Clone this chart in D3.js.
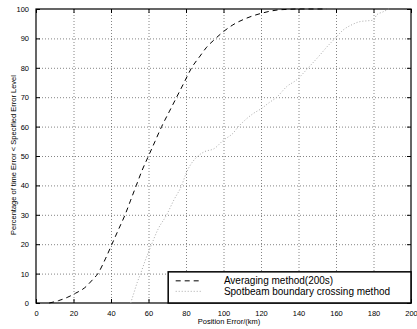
<!DOCTYPE html>
<html>
<head>
<meta charset="utf-8">
<script src="https://cdn.jsdelivr.net/npm/d3@7"></script>
<style>
  body { margin: 0; background: #fff; }
  svg { display: block; font-family: "Liberation Sans", Arial, Helvetica, sans-serif; }
</style>
</head>
<body>
<div id="chart"></div>
<script>
// Averaging method (200s): position error (km) vs percentage
const avgX = [7, 12, 17, 21, 26, 30, 33, 37, 40.5, 44, 47.5, 50.5, 53.5, 56.5, 60, 63.5, 67, 71, 75, 79, 83, 87.5, 91, 95, 99, 105, 112, 120, 128, 135, 140, 150, 155];
const avgY = [0, 0.8, 2, 3.3, 5.2, 7.8, 10, 15, 20, 25, 30, 35, 40, 45, 50, 55, 60, 65, 70, 75, 80, 84, 87, 89.5, 91.8, 94.6, 96.8, 98.5, 99.6, 99.9, 100, 100, 100];

// Spotbeam boundary crossing method
const spotX = [50.5, 52, 54, 55.8, 58, 61.7, 65, 69.7, 73.5, 77.7, 80, 81.5, 86.4, 90, 95, 100, 105, 108, 112, 116, 120.4, 124, 128.4, 133.7, 139, 145.2, 151.5, 155, 159.5, 163.9, 168, 172.8, 177, 180, 181.7, 185, 188];
const spotY = [0, 3, 7, 10, 14, 20, 25, 30, 35, 40, 44, 46, 50, 51.5, 52.5, 55.4, 57.7, 60, 62.5, 64.5, 66.2, 68, 70, 73.6, 75.9, 80, 84.4, 87, 90, 92.9, 94.5, 95.7, 96, 96.2, 98, 99, 100];

const xTicks = [0, 20, 40, 60, 80, 100, 120, 140, 160, 180, 200];
const yTicks = [0, 10, 20, 30, 40, 50, 60, 70, 80, 90, 100];
const legendLabels = ["Averaging method(200s)", "Spotbeam boundary crossing method"];

const width = 417, height = 329;
const margin = { top: 9, right: 6, bottom: 26, left: 36 };
const w = width - margin.left - margin.right,
  h = height - margin.top - margin.bottom;

const svg = d3.select("#chart").append("svg")
  .attr("width", width)
  .attr("height", height);

const g = svg.append("g")
  .attr("transform", "translate(" + margin.left + "," + margin.top + ")");

const x = d3.scaleLinear().domain([0, 200]).range([0, w]);
const y = d3.scaleLinear().domain([0, 100]).range([h, 0]);

// dotted grid
g.selectAll("line.gx")
  .data(xTicks.slice(1, -1))
  .enter().append("line")
  .attr("x1", d => x(d) + 0.5).attr("x2", d => x(d) + 0.5)
  .attr("y1", 0).attr("y2", h)
  .attr("stroke", "#666").attr("stroke-width", 0.8)
  .attr("stroke-dasharray", "1,2");
g.selectAll("line.gy")
  .data(yTicks.slice(1, -1))
  .enter().append("line")
  .attr("y1", d => y(d) + 0.5).attr("y2", d => y(d) + 0.5)
  .attr("x1", 0).attr("x2", w)
  .attr("stroke", "#666").attr("stroke-width", 0.8)
  .attr("stroke-dasharray", "1,2");

// axes, ticks pointing inward (matlab style)
const tickStyle = function (sel) {
  sel.select(".domain").remove();
  sel.selectAll("text").attr("font-size", "7.5px").attr("fill", "#000")
    .attr("font-family", "Liberation Sans, Arial, sans-serif");
  sel.selectAll("line").attr("stroke", "#000");
};
g.append("g")
  .attr("transform", "translate(0," + h + ")")
  .call(d3.axisBottom(x).tickValues(xTicks).tickSizeInner(-4).tickPadding(8))
  .call(tickStyle);
g.append("g")
  .call(d3.axisLeft(y).tickValues(yTicks).tickSizeInner(-4).tickPadding(7))
  .call(tickStyle);
g.append("g")
  .call(d3.axisTop(x).tickValues(xTicks).tickSizeInner(-4).tickFormat(""))
  .call(tickStyle);
g.append("g")
  .attr("transform", "translate(" + w + ",0)")
  .call(d3.axisRight(y).tickValues(yTicks).tickSizeInner(-4).tickFormat(""))
  .call(tickStyle);

// box
g.append("rect")
  .attr("x", 0).attr("y", 0).attr("width", w).attr("height", h)
  .attr("fill", "none").attr("stroke", "#000").attr("stroke-width", 1.2);

// curves
const line = d3.line().curve(d3.curveMonotoneX).x(d => x(d[0])).y(d => y(d[1]));
g.append("path")
  .datum(d3.zip(spotX, spotY))
  .attr("d", line)
  .attr("fill", "none").attr("stroke", "#aaa").attr("stroke-width", 1)
  .attr("stroke-dasharray", "1,2");
g.append("path")
  .datum(d3.zip(avgX, avgY))
  .attr("d", line)
  .attr("fill", "none").attr("stroke", "#000").attr("stroke-width", 1)
  .attr("stroke-dasharray", "5,4");

// legend
const lg = g.append("g");
lg.append("rect")
  .attr("x", x(70.5)).attr("y", y(10.6))
  .attr("width", w - x(70.5)).attr("height", h - y(10.6))
  .attr("fill", "#fff").attr("stroke", "#000").attr("stroke-width", 1.5);
const styles = [["#000", "5,4"], ["#aaa", "1,2"]];
legendLabels.forEach(function (lab, i) {
  const yy = y(10.6) + 9 + i * 10.5;
  lg.append("line")
    .attr("x1", x(74.5)).attr("x2", x(88.5))
    .attr("y1", yy).attr("y2", yy)
    .attr("stroke", styles[i][0]).attr("stroke-dasharray", styles[i][1]);
  lg.append("text")
    .attr("x", x(100.2)).attr("y", yy + 3.5)
    .attr("font-size", "10px")
    .text(lab);
});

// axis titles
svg.append("text")
  .attr("x", 229).attr("y", 324)
  .attr("text-anchor", "middle")
  .attr("font-size", "7.5px")
  .text("Position Error/(km)");
svg.append("text")
  .attr("transform", "rotate(-90)")
  .attr("x", -155).attr("y", 16)
  .attr("text-anchor", "middle")
  .attr("font-size", "7.5px")
  .text("Percentage of time Error < Specified Error Level");
</script>
</body>
</html>
